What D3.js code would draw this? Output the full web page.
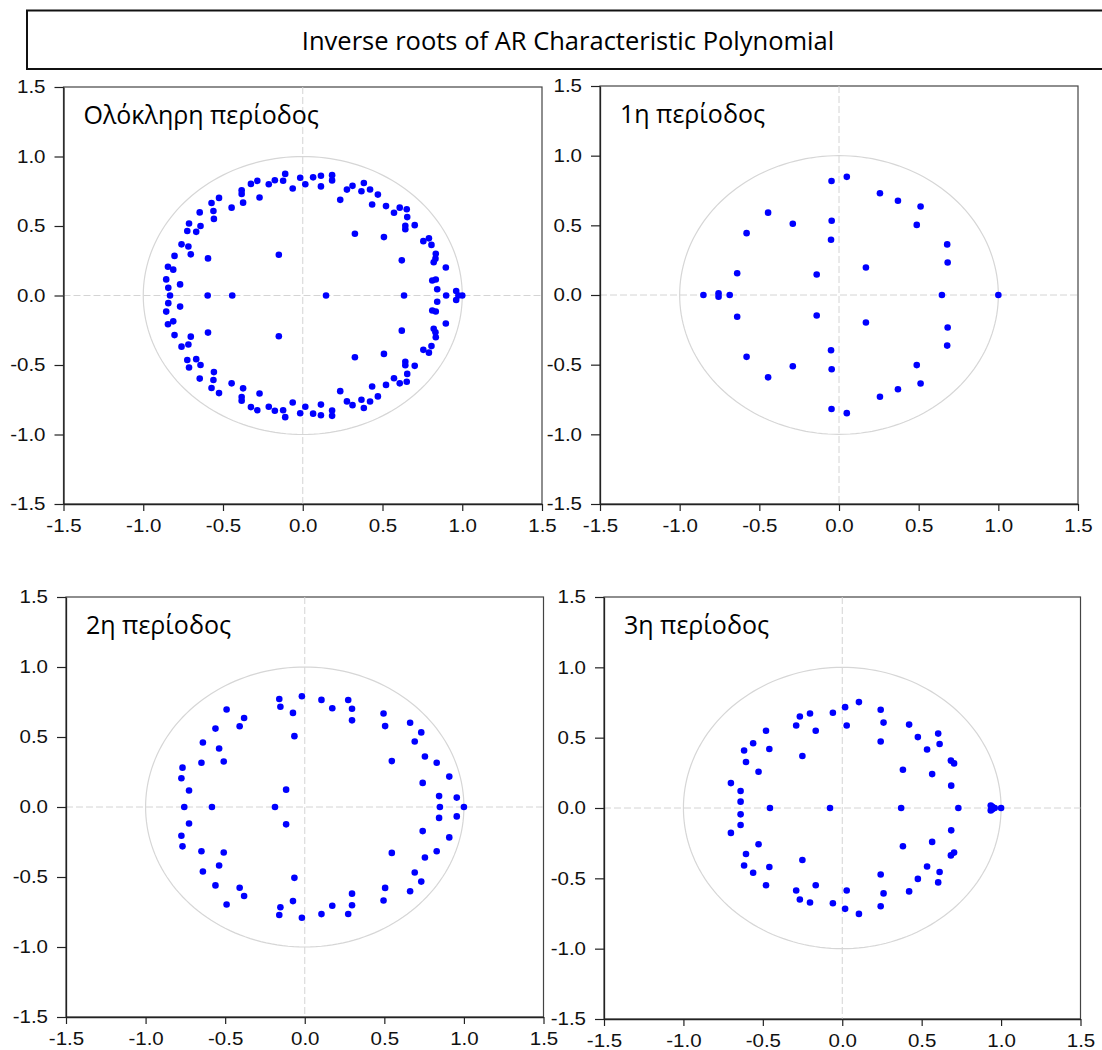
<!DOCTYPE html>
<html>
<head>
<meta charset="utf-8">
<script src="https://cdn.jsdelivr.net/npm/d3@7"></script>
<style>
  html, body { margin: 0; padding: 0; background: #ffffff; }
  svg { display: block; }
</style>
</head>
<body>
<div id="chart"></div>
<script>
// ---------------- DATA ----------------
const chartTitle = "Inverse roots of AR Characteristic Polynomial";
const panelTitles = ["Ολόκληρη περίοδος", "1η περίοδος", "2η περίοδος", "3η περίοδος"];
const tickValues = [-1.5, -1.0, -0.5, 0.0, 0.5, 1.0, 1.5];
const tickLabels = ["-1.5", "-1.0", "-0.5", "0.0", "0.5", "1.0", "1.5"];

const rootsWhole = [
  [-0.110, 0.875], [-0.110, -0.875], [-0.016, 0.847], [-0.016, -0.847],
  [0.016, 0.800], [0.016, -0.800], [0.065, 0.850], [0.065, -0.850],
  [0.114, 0.861], [0.114, -0.861], [0.114, 0.785], [0.114, -0.785],
  [0.184, 0.866], [0.184, -0.866], [0.184, 0.828], [0.184, -0.828],
  [-0.063, 0.770], [-0.063, -0.770], [-0.123, 0.826], [-0.123, -0.826],
  [-0.175, 0.829], [-0.175, -0.829], [-0.213, 0.800], [-0.213, -0.800],
  [-0.285, 0.825], [-0.285, -0.825], [-0.325, 0.803], [-0.325, -0.803],
  [-0.271, 0.705], [-0.271, -0.705], [-0.383, 0.757], [-0.383, -0.757],
  [-0.383, 0.731], [-0.383, -0.731], [-0.374, 0.668], [-0.374, -0.668],
  [-0.446, 0.632], [-0.446, -0.632], [-0.525, 0.702], [-0.525, -0.702],
  [-0.572, 0.666], [-0.572, -0.666], [-0.560, 0.608], [-0.560, -0.608],
  [-0.557, 0.551], [-0.557, -0.551], [-0.646, 0.598], [-0.646, -0.598],
  [-0.641, 0.500], [-0.641, -0.500], [-0.668, 0.458], [-0.668, -0.458],
  [-0.713, 0.518], [-0.713, -0.518], [-0.724, 0.464], [-0.724, -0.464],
  [-0.717, 0.353], [-0.717, -0.353], [-0.760, 0.368], [-0.760, -0.368],
  [-0.702, 0.296], [-0.702, -0.296], [-0.804, 0.285], [-0.804, -0.285],
  [-0.594, 0.267], [-0.594, -0.267], [-0.150, 0.293], [-0.150, -0.293],
  [-0.845, 0.207], [-0.845, -0.207], [-0.812, 0.186], [-0.812, -0.186],
  [-0.856, 0.116], [-0.856, -0.116], [-0.843, 0.055], [-0.843, -0.055],
  [-0.769, 0.080], [-0.769, -0.080], [0.235, 0.688], [0.235, -0.688],
  [0.277, 0.762], [0.277, -0.762], [0.312, 0.789], [0.312, -0.789],
  [0.383, 0.809], [0.383, -0.809], [0.368, 0.750], [0.368, -0.750],
  [0.422, 0.763], [0.422, -0.763], [0.471, 0.726], [0.471, -0.726],
  [0.435, 0.655], [0.435, -0.655], [0.522, 0.643], [0.522, -0.643],
  [0.572, 0.595], [0.572, -0.595], [0.608, 0.632], [0.608, -0.632],
  [0.652, 0.620], [0.652, -0.620], [0.655, 0.564], [0.655, -0.564],
  [0.643, 0.502], [0.643, -0.502], [0.643, 0.477], [0.643, -0.477],
  [0.702, 0.506], [0.702, -0.506], [0.327, 0.444], [0.327, -0.444],
  [0.509, 0.420], [0.509, -0.420], [0.756, 0.391], [0.756, -0.391],
  [0.791, 0.411], [0.791, -0.411], [0.807, 0.364], [0.807, -0.364],
  [0.834, 0.300], [0.834, -0.300], [0.832, 0.265], [0.832, -0.265],
  [0.821, 0.239], [0.821, -0.239], [0.621, 0.253], [0.621, -0.253],
  [0.897, 0.201], [0.897, -0.201], [0.812, 0.108], [0.812, -0.108],
  [0.834, 0.115], [0.834, -0.115], [0.843, 0.045], [0.843, -0.045],
  [0.962, 0.032], [0.962, -0.032],
  [-0.832, 0], [-0.596, 0], [-0.442, 0], [0.146, 0], [0.635, 0],
  [0.899, 0], [0.976, 0], [1.000, 0]
];

const rootsPeriod1 = [
  [-0.047, 0.818], [-0.047, -0.818], [0.049, 0.848], [0.049, -0.848],
  [0.257, 0.730], [0.257, -0.730], [0.370, 0.676], [0.370, -0.676],
  [0.512, 0.635], [0.512, -0.635], [0.488, 0.503], [0.488, -0.503],
  [0.679, 0.363], [0.679, -0.363], [0.682, 0.233], [0.682, -0.233],
  [0.169, 0.197], [0.169, -0.197], [-0.046, 0.533], [-0.046, -0.533],
  [-0.050, 0.397], [-0.050, -0.397], [-0.140, 0.147], [-0.140, -0.147],
  [-0.290, 0.511], [-0.290, -0.511], [-0.445, 0.591], [-0.445, -0.591],
  [-0.580, 0.444], [-0.580, -0.444], [-0.639, 0.156], [-0.639, -0.156],
  [-0.756, 0.012], [-0.756, -0.012],
  [-0.851, 0], [-0.686, 0], [0.646, 0], [1.000, 0]
];

const rootsPeriod2 = [
  [-0.018, 0.791], [-0.018, -0.791], [-0.160, 0.771], [-0.160, -0.771],
  [-0.153, 0.716], [-0.153, -0.716], [-0.074, 0.672], [-0.074, -0.672],
  [-0.065, 0.506], [-0.065, -0.506], [-0.117, 0.124], [-0.117, -0.124],
  [0.105, 0.765], [0.105, -0.765], [0.173, 0.705], [0.173, -0.705],
  [0.273, 0.764], [0.273, -0.764], [0.297, 0.702], [0.297, -0.702],
  [0.297, 0.619], [0.297, -0.619], [0.495, 0.668], [0.495, -0.668],
  [0.505, 0.578], [0.505, -0.578], [0.547, 0.328], [0.547, -0.328],
  [0.662, 0.602], [0.662, -0.602], [0.732, 0.533], [0.732, -0.533],
  [0.691, 0.468], [0.691, -0.468], [0.755, 0.361], [0.755, -0.361],
  [0.829, 0.316], [0.829, -0.316], [0.908, 0.217], [0.908, -0.217],
  [0.741, 0.172], [0.741, -0.172], [0.844, 0.078], [0.844, -0.078],
  [0.955, 0.067], [0.955, -0.067], [-0.491, 0.696], [-0.491, -0.696],
  [-0.381, 0.636], [-0.381, -0.636], [-0.409, 0.577], [-0.409, -0.577],
  [-0.561, 0.560], [-0.561, -0.560], [-0.538, 0.418], [-0.538, -0.418],
  [-0.509, 0.325], [-0.509, -0.325], [-0.640, 0.461], [-0.640, -0.461],
  [-0.649, 0.316], [-0.649, -0.316], [-0.768, 0.281], [-0.768, -0.281],
  [-0.775, 0.205], [-0.775, -0.205], [-0.727, 0.118], [-0.727, -0.118],
  [0.849, 0], [1.000, 0], [-0.187, 0], [-0.583, 0], [-0.757, 0]
];

const rootsPeriod3 = [
  [0.105, 0.753], [0.105, -0.753], [0.018, 0.717], [0.018, -0.717],
  [-0.059, 0.677], [-0.059, -0.677], [0.028, 0.587], [0.028, -0.587],
  [-0.203, 0.672], [-0.203, -0.672], [-0.267, 0.651], [-0.267, -0.651],
  [-0.290, 0.587], [-0.290, -0.587], [-0.167, 0.549], [-0.167, -0.549],
  [-0.251, 0.370], [-0.251, -0.370], [-0.480, 0.549], [-0.480, -0.549],
  [-0.459, 0.419], [-0.459, -0.419], [-0.561, 0.460], [-0.561, -0.460],
  [-0.618, 0.409], [-0.618, -0.409], [-0.606, 0.327], [-0.606, -0.327],
  [-0.527, 0.258], [-0.527, -0.258], [-0.701, 0.177], [-0.701, -0.177],
  [-0.640, 0.121], [-0.640, -0.121], [-0.640, 0.045], [-0.640, -0.045],
  [0.242, 0.698], [0.242, -0.698], [0.260, 0.607], [0.260, -0.607],
  [0.242, 0.473], [0.242, -0.473], [0.421, 0.593], [0.421, -0.593],
  [0.476, 0.504], [0.476, -0.504], [0.604, 0.529], [0.604, -0.529],
  [0.613, 0.455], [0.613, -0.455], [0.534, 0.416], [0.534, -0.416],
  [0.382, 0.272], [0.382, -0.272], [0.566, 0.241], [0.566, -0.241],
  [0.684, 0.337], [0.684, -0.337], [0.704, 0.317], [0.704, -0.317],
  [0.686, 0.159], [0.686, -0.159], [0.935, 0.017], [0.935, -0.017],
  [0.945, 0.008], [0.945, -0.008],
  [-0.455, 0], [-0.077, 0], [0.371, 0], [0.731, 0], [0.960, 0], [1.000, 0]
];

const panelRoots = [rootsWhole, rootsPeriod1, rootsPeriod2, rootsPeriod3];

// ---------------- LAYOUT ----------------
const W = 1102, H = 1050;
const frames = [
  { l: 63.5, r: 542, t: 87, b: 504 },
  { l: 600, r: 1078, t: 86, b: 504 },
  { l: 66, r: 543.5, t: 597, b: 1017 },
  { l: 604, r: 1080.5, t: 597, b: 1019 }
];
const stretch = 1.14; // horizontal stretch of the tick text
const tickFont = "'Liberation Sans', Arial, sans-serif";
const labelFont = "'Open Sans', 'Noto Sans', sans-serif";

const svg = d3.select("#chart").append("svg")
  .attr("width", W).attr("height", H)
  .attr("viewBox", `0 0 ${W} ${H}`);

svg.append("rect").attr("width", W).attr("height", H).attr("fill", "#fff");

// Title box
svg.append("rect")
  .attr("x", 27).attr("y", 10.5)
  .attr("width", 1102).attr("height", 58.5)
  .attr("fill", "#fff").attr("stroke", "#111").attr("stroke-width", 2);
svg.append("text")
  .attr("x", 568).attr("y", 50)
  .attr("text-anchor", "middle")
  .style("font-family", labelFont)
  .style("font-size", "25.5px")
  .attr("fill", "#000")
  .text(chartTitle);

frames.forEach((f, i) => {
  const x = d3.scaleLinear().domain([-1.5, 1.5]).range([f.l, f.r]);
  const y = d3.scaleLinear().domain([-1.5, 1.5]).range([f.b, f.t]);
  const g = svg.append("g");

  // frame
  g.append("rect")
    .attr("x", f.l).attr("y", f.t)
    .attr("width", f.r - f.l).attr("height", f.b - f.t)
    .attr("fill", "#fff").attr("stroke", "#444").attr("stroke-width", 1.2);

  // zero lines (dashed)
  g.append("line")
    .attr("x1", x(0)).attr("x2", x(0)).attr("y1", f.t).attr("y2", f.b)
    .attr("stroke", "#d4d4d4").attr("stroke-width", 1).attr("stroke-dasharray", "7,3");
  g.append("line")
    .attr("x1", f.l).attr("x2", f.r).attr("y1", y(0)).attr("y2", y(0))
    .attr("stroke", "#d4d4d4").attr("stroke-width", 1).attr("stroke-dasharray", "7,3");

  // unit circle
  const circ = d3.range(0, 361, 2).map(a => [Math.cos(a * Math.PI / 180), Math.sin(a * Math.PI / 180)]);
  g.append("path")
    .datum(circ)
    .attr("d", d3.line().x(d => x(d[0])).y(d => y(d[1])))
    .attr("fill", "none").attr("stroke", "#d6d6d6").attr("stroke-width", 1.2);

  // axes
  const fmt = d => tickLabels[tickValues.indexOf(d)];
  const yAx = g.append("g").attr("transform", `translate(${f.l},0)`)
    .call(d3.axisLeft(y).tickValues(tickValues).tickFormat(fmt)
      .tickSizeInner(9).tickSizeOuter(0).tickPadding(9));
  const xAx = g.append("g").attr("transform", `translate(0,${f.b})`)
    .call(d3.axisBottom(x).tickValues(tickValues).tickFormat(fmt)
      .tickSizeInner(7).tickSizeOuter(0).tickPadding(8));
  [yAx, xAx].forEach(ax => {
    ax.select(".domain").attr("stroke", "#222").attr("stroke-width", 1.3);
    ax.selectAll(".tick line").attr("stroke", "#222").attr("stroke-width", 1.2);
    ax.selectAll(".tick text")
      .style("font-family", tickFont).style("font-size", "18px")
      .attr("fill", "#111");
  });
  yAx.selectAll(".tick text")
    .attr("x", -18 / stretch)
    .attr("transform", `scale(${stretch},1)`);
  xAx.selectAll(".tick text")
    .attr("transform", `scale(${stretch},1)`);

  // roots
  g.append("g").selectAll("circle")
    .data(panelRoots[i])
    .join("circle")
    .attr("cx", d => x(d[0]))
    .attr("cy", d => y(d[1]))
    .attr("r", 3.3)
    .attr("fill", "#0000ff");

  // panel title
  g.append("text")
    .attr("x", f.l + 20).attr("y", f.t + 37)
    .style("font-family", labelFont)
    .style("font-size", "25px")
    .attr("fill", "#000")
    .text(panelTitles[i]);
});
</script>
</body>
</html>
